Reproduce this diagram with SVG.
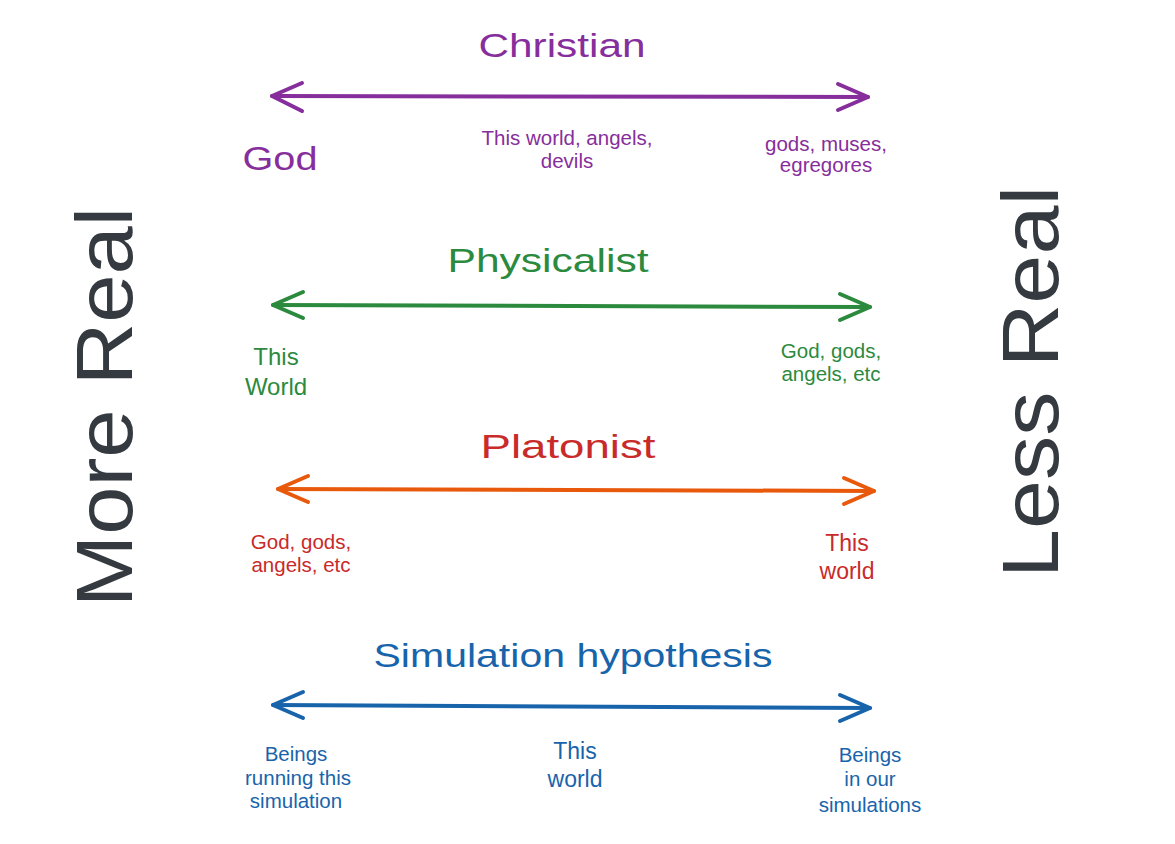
<svg xmlns="http://www.w3.org/2000/svg" width="1175" height="844" viewBox="0 0 1175 844">
<style>
text{font-family:"Liberation Sans","DejaVu Sans",sans-serif;text-anchor:middle}
.title{font-size:34px}
.sm{font-size:20.5px}
.md{font-size:23px}
.axis{font-size:80px;fill:#343a40;text-anchor:start}
.ln{fill:none;stroke-width:4;stroke-linecap:round;stroke-linejoin:round}
.pur{fill:#862e9c}.grn{fill:#2b8a3e}.red{fill:#c92a2a}.blu{fill:#1864ab}
</style>
<rect width="1175" height="844" fill="#ffffff"/>
<g id="connectors">
<g class="ln" stroke="#862e9c">
<path d="M272 96 L868 97"/>
<path d="M302 83 L272 96 L302 111"/>
<path d="M838 84 L868 97 L838 110"/>
</g>
<g class="ln" stroke="#2b8a3e">
<path d="M273 305 L870 307"/>
<path d="M303 292 L273 305 L303 318"/>
<path d="M840 294 L870 307 L840 320"/>
</g>
<g class="ln" stroke="#e8590c">
<path d="M278 489 L874 491"/>
<path d="M308 476 L278 489 L308 502"/>
<path d="M844 478 L874 491 L844 504"/>
</g>
<g class="ln" stroke="#1864ab">
<path d="M273 705 L870 708"/>
<path d="M303 692 L273 705 L303 718"/>
<path d="M840 695 L870 708 L840 721"/>
</g>
</g>
<g id="more-real"><text class="axis" transform="translate(132,607) rotate(-90)" textLength="400" lengthAdjust="spacingAndGlyphs">More Real</text></g>
<g id="less-real"><text class="axis" transform="translate(1058,578) rotate(-90)" textLength="392" lengthAdjust="spacingAndGlyphs">Less Real</text></g>
<g id="christian" class="pur">
<text class="title" x="562" y="57" textLength="167" lengthAdjust="spacingAndGlyphs">Christian</text>
<text class="title" x="280" y="170" textLength="75" lengthAdjust="spacingAndGlyphs">God</text>
<text class="sm" x="567" y="145">This world, angels,</text>
<text class="sm" x="567" y="168">devils</text>
<text class="sm" x="826" y="151">gods, muses,</text>
<text class="sm" x="826" y="172">egregores</text>
</g>
<g id="physicalist" class="grn">
<text class="title" x="548" y="272" textLength="201" lengthAdjust="spacingAndGlyphs">Physicalist</text>
<text x="276" y="365" style="font-size:24px">This</text>
<text x="276" y="395" style="font-size:24px">World</text>
<text class="sm" x="831" y="358">God, gods,</text>
<text class="sm" x="831" y="381">angels, etc</text>
</g>
<g id="platonist" class="red">
<text class="title" x="568" y="458" textLength="175" lengthAdjust="spacingAndGlyphs">Platonist</text>
<text class="sm" x="301" y="549">God, gods,</text>
<text class="sm" x="301" y="572">angels, etc</text>
<text class="md" x="847" y="551">This</text>
<text class="md" x="847" y="579">world</text>
</g>
<g id="simulation" class="blu">
<text class="title" x="573" y="667" textLength="399" lengthAdjust="spacingAndGlyphs">Simulation hypothesis</text>
<text class="sm" x="296" y="761">Beings</text>
<text class="sm" x="298" y="785">running this</text>
<text class="sm" x="296" y="808">simulation</text>
<text class="md" x="575" y="759">This</text>
<text class="md" x="575" y="787">world</text>
<text class="sm" x="870" y="762">Beings</text>
<text class="sm" x="870" y="786">in our</text>
<text class="sm" x="870" y="812">simulations</text>
</g>
</svg>
